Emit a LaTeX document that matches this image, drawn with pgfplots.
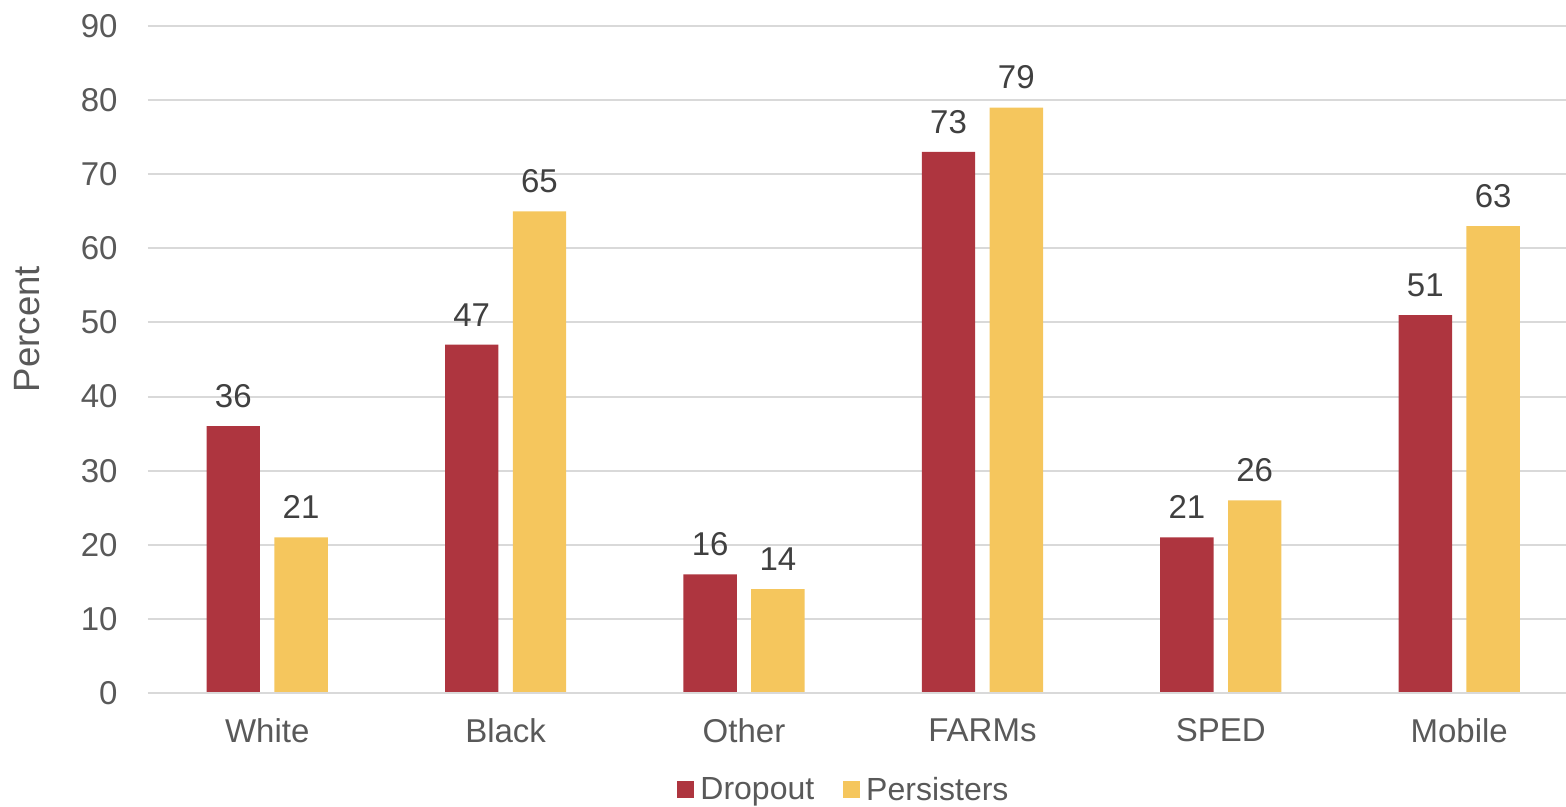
\documentclass[border=0pt]{standalone}
\usepackage{fontspec}
\setmainfont{Liberation Sans}
\usepackage{pgfplots}
\pgfplotsset{compat=1.18}
\definecolor{drop}{HTML}{AE353F}
\definecolor{pers}{HTML}{F5C65D}
\definecolor{tickgray}{HTML}{595959}
\definecolor{labgray}{HTML}{404040}
\definecolor{gridgray}{HTML}{D9D9D9}
\begin{document}
\begin{tikzpicture}
\begin{axis}[
  name=ax,
  scale only axis,
  width=709bp, height=333.5bp,
  xmin=-0.5, xmax=5.448,
  ymin=0, ymax=90,
  ytick={0,10,...,90},
  xtick={0,1,2,3,4,5},
  xticklabels={White,Black,Other,FARMs,SPED,Mobile},
  major tick length=0pt,
  tick style={draw=none},
  axis line style={draw=none},
  ymajorgrids,
  grid style={gridgray, line width=1bp},
  /pgf/number format/assume math mode=true,
  yticklabel style={anchor=east, inner sep=0pt, xshift=-15bp, font=\fontsize{16.5bp}{19bp}\selectfont, text=tickgray},
  xticklabel style={anchor=north, inner sep=0pt, yshift=-12.5bp, font=\fontsize{16.5bp}{19bp}\selectfont, text=tickgray},
  ylabel={Percent},
  ylabel style={at={(rel axis cs:0,0.5457)}, yshift=60.5bp, anchor=center, inner sep=0pt, font=\fontsize{18.3bp}{21bp}\selectfont, text=tickgray},
  ybar, bar width=26.7bp,
  nodes near coords,
  nodes near coords style={font=\fontsize{16.5bp}{19bp}\selectfont, text=labgray, anchor=south, inner sep=0pt, yshift=9bp},
  legend columns=2,
  legend style={draw=none, at={(0.4915,-0.1454)}, anchor=center, font=\fontsize{16bp}{19bp}\selectfont, text=tickgray,
    /tikz/every even column/.append style={column sep=12.5bp},
    /tikz/every odd column/.append style={column sep=1bp}, inner sep=0pt},
  legend image code/.code={\fill[#1] (0bp,-4.25bp) rectangle (8.5bp,4.25bp);},
]
\addplot[fill=drop, draw=none, bar shift=-16.95bp] coordinates {(0,36) (1,47) (2,16) (3,73) (4,21) (5,51)};
\addplot[fill=pers, draw=none, bar shift=16.95bp] coordinates {(0,21) (1,65) (2,14) (3,79) (4,26) (5,63)};
\legend{Dropout,Persisters}
\draw[gridgray, line width=1bp] (rel axis cs:0,0) -- (rel axis cs:1,0);
\end{axis}
\pgfresetboundingbox
\path[use as bounding box] ([xshift=-74bp,yshift=-57bp]ax.south west) rectangle ([yshift=13bp]ax.north east);
\end{tikzpicture}
\end{document}
